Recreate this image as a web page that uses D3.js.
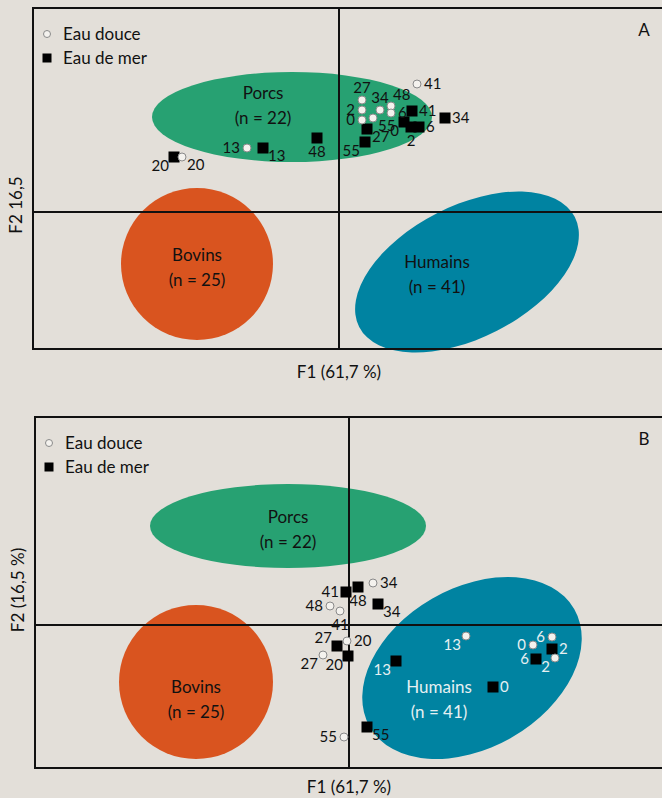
<!DOCTYPE html>
<html>
<head>
<meta charset="utf-8">
<script src="https://cdn.jsdelivr.net/npm/d3@7"></script>
<style>
  html, body { margin: 0; padding: 0; background: #e3dfd9; }
  svg { display: block; font-family: "Lato", "Open Sans", sans-serif; }
</style>
</head>
<body>
<svg id="chart"></svg>
<script>
// F1 / F2 scores (arbitrary units)
const freshA = [
  {id: "41", f1: 1.56, f2: 2.56}, {id: "27", f1: 0.46, f2: 2.24},
  {id: "2", f1: 0.46, f2: 2.04},  {id: "0", f1: 0.46, f2: 1.84},
  {id: "55", f1: 0.68, f2: 1.88}, {id: "34", f1: 0.82, f2: 2.04},
  {id: "48", f1: 1.04, f2: 2.12}, {id: "6", f1: 1.04, f2: 1.98},
  {id: "13", f1: -1.84, f2: 1.28}, {id: "20", f1: -3.14, f2: 1.10}
];
const seaA = [
  {id: "41", f1: 1.46, f2: 2.02}, {id: "27", f1: 0.56, f2: 1.66},
  {id: "55", f1: 0.52, f2: 1.40}, {id: "0", f1: 1.30, f2: 1.80},
  {id: "2", f1: 1.44, f2: 1.70},  {id: "6", f1: 1.60, f2: 1.70},
  {id: "34", f1: 2.12, f2: 1.88}, {id: "48", f1: -0.44, f2: 1.48},
  {id: "13", f1: -1.52, f2: 1.28}, {id: "20", f1: -3.30, f2: 1.10}
];
const freshB = [
  {id: "34", f1: 0.48, f2: 0.84},  {id: "48", f1: -0.38, f2: 0.38},
  {id: "41", f1: -0.18, f2: 0.28}, {id: "20", f1: -0.04, f2: -0.32},
  {id: "27", f1: -0.52, f2: -0.60}, {id: "55", f1: -0.10, f2: -2.24},
  {id: "13", f1: 2.34, f2: -0.22}, {id: "6", f1: 4.06, f2: -0.24},
  {id: "0", f1: 3.68, f2: -0.40},  {id: "2", f1: 4.12, f2: -0.66}
];
const seaB = [
  {id: "41", f1: -0.06, f2: 0.66}, {id: "48", f1: 0.18, f2: 0.76},
  {id: "34", f1: 0.58, f2: 0.42},  {id: "27", f1: -0.24, f2: -0.42},
  {id: "20", f1: -0.02, f2: -0.62}, {id: "13", f1: 0.94, f2: -0.72},
  {id: "55", f1: 0.36, f2: -2.04}, {id: "2", f1: 4.06, f2: -0.48},
  {id: "6", f1: 3.74, f2: -0.68},  {id: "0", f1: 2.88, f2: -1.24}
];

// where each point's number sits (r, l, a, b, ra, la, rb, lb)
const freshPlaceA = {41: "r", 27: "a", 2: "l", 0: "l", 55: "rb", 34: "a", 48: "ra", 6: "r", 13: "l", 20: "rb"};
const seaPlaceA = {41: "r", 27: "rb", 55: "lb", 0: "lb", 2: "b", 6: "r", 34: "r", 48: "b", 13: "rb", 20: "lb"};
const freshPlaceB = {34: "r", 48: "l", 41: "b", 20: "r", 27: "lb", 55: "l", 13: "lb", 6: "l", 0: "l", 2: "lb"};
const seaPlaceB = {41: "l", 48: "b", 34: "rb", 27: "la", 20: "lb", 13: "lb", 55: "rb", 2: "r", 6: "l", 0: "r"};

// animal-group envelopes: centre, semi-axes, tilt (deg)
const groupsA = [
  {name: "Porcs", n: 22, cx: -0.94, cy: 1.90, rx: 2.80, ry: 0.90, tilt: 0, lx: -1.52, ly: 2.12},
  {name: "Bovins", n: 25, cx: -2.84, cy: -1.04, rx: 1.52, ry: 1.52, tilt: 0, lx: -2.84, ly: -1.12},
  {name: "Humains", n: 41, cx: 2.56, cy: -1.20, rx: 2.42, ry: 1.32, tilt: 27, lx: 1.96, ly: -1.26}
];
const groupsB = [
  {name: "Porcs", n: 22, cx: -1.22, cy: 1.98, rx: 2.76, ry: 0.84, tilt: 0, lx: -1.22, ly: 1.90},
  {name: "Bovins", n: 25, cx: -3.06, cy: -1.14, rx: 1.54, ry: 1.54, tilt: 0, lx: -3.06, ly: -1.50},
  {name: "Humains", n: 41, cx: 2.46, cy: -0.86, rx: 2.36, ry: 1.60, tilt: 30, lx: 1.80, ly: -1.50}
];

const legendLabels = ["Eau douce", "Eau de mer"];
const xTitle = "F1 (61,7 %)";

const width = 662, height = 798;
const groupColor = {Porcs: "#27a172", Bovins: "#d9541f", Humains: "#0083a1"};

const svg = d3.select("#chart").attr("width", width).attr("height", height);

const placeOff = {
  r: [7, 5, "start"], l: [-7, 5, "end"], a: [0, -7, "middle"], b: [0, 19, "middle"],
  ra: [2, -6, "start"], la: [-5, -3, "end"], rb: [5, 13, "start"], lb: [-5, 14, "end"]
};

function drawPanel(cfg) {
  const g = svg.append("g");
  const x = d3.scaleLinear().domain(cfg.xDomain).range([cfg.left, cfg.left + 50 * (cfg.xDomain[1] - cfg.xDomain[0])]);
  const y = d3.scaleLinear().domain(cfg.yDomain).range([cfg.top, cfg.bottom]);
  const k = x(1) - x(0);

  // ellipses
  cfg.groups.forEach(d => {
    g.append("ellipse")
      .attr("transform", `translate(${x(d.cx)},${y(d.cy)}) rotate(${-d.tilt})`)
      .attr("rx", d.rx * k).attr("ry", d.ry * k)
      .attr("fill", groupColor[d.name]);
  });

  // frame + axes
  g.append("rect")
    .attr("x", cfg.left).attr("y", cfg.top)
    .attr("width", 720).attr("height", cfg.bottom - cfg.top)
    .attr("fill", "none").attr("stroke", "#111").attr("stroke-width", 2);
  g.append("line").attr("x1", x(0)).attr("x2", x(0)).attr("y1", cfg.top).attr("y2", cfg.bottom)
    .attr("stroke", "#111").attr("stroke-width", 2);
  g.append("line").attr("x1", cfg.left).attr("x2", width + 10).attr("y1", y(0)).attr("y2", y(0))
    .attr("stroke", "#111").attr("stroke-width", 2);

  // group names
  cfg.groups.forEach(d => {
    const t = g.append("text")
      .attr("x", x(d.lx)).attr("y", y(d.ly))
      .attr("text-anchor", "middle")
      .attr("font-size", 17)
      .attr("fill", d.name === "Humains" && cfg.lightHumans ? "#e6f0f2" : "#111");
    t.append("tspan").attr("x", x(d.lx)).attr("dy", -7).text(d.name);
    t.append("tspan").attr("x", x(d.lx)).attr("dy", 25).text(`(n = ${d.n})`);
  });

  const hum = cfg.groups.find(d => d.name === "Humains");
  const inHumans = d => {
    const a = hum.tilt * Math.PI / 180;
    const dx = d.f1 - hum.cx, dy = d.f2 - hum.cy;
    const u = dx * Math.cos(a) + dy * Math.sin(a);
    const v = -dx * Math.sin(a) + dy * Math.cos(a);
    return (u * u) / (hum.rx * hum.rx) + (v * v) / (hum.ry * hum.ry) < 1;
  };

  const labelFill = d => cfg.lightHumans && inHumans(d) ? "#e6f0f2" : "#111";

  // points
  g.selectAll(".sea").data(cfg.sea).join("rect")
    .attr("x", d => x(d.f1) - 5.5).attr("y", d => y(d.f2) - 5.5)
    .attr("width", 11).attr("height", 11).attr("fill", "#000");
  g.selectAll(".fresh").data(cfg.fresh).join("circle")
    .attr("cx", d => x(d.f1)).attr("cy", d => y(d.f2)).attr("r", 4)
    .attr("fill", "#f4f2ee").attr("stroke", "#8a8a8a").attr("stroke-width", 1);

  const labels = cfg.fresh.map(d => ({...d, p: cfg.freshPlace[d.id]}))
    .concat(cfg.sea.map(d => ({...d, p: cfg.seaPlace[d.id]})));
  g.selectAll(".lbl").data(labels).join("text")
    .attr("x", d => x(d.f1) + placeOff[d.p][0])
    .attr("y", d => y(d.f2) + placeOff[d.p][1])
    .attr("text-anchor", d => placeOff[d.p][2])
    .attr("font-size", 15)
    .attr("fill", labelFill)
    .text(d => d.id);

  // legend
  const lg = g.append("g").attr("transform", `translate(${cfg.left + 14},${cfg.top + 26})`);
  lg.append("circle").attr("cx", 0).attr("cy", 0).attr("r", 3.5)
    .attr("fill", "#f4f2ee").attr("stroke", "#8a8a8a");
  lg.append("rect").attr("x", -4.5).attr("y", 19.5).attr("width", 9).attr("height", 9).attr("fill", "#000");
  lg.selectAll("text").data(legendLabels).join("text")
    .attr("x", 16).attr("y", (d, i) => 6 + i * 24)
    .attr("font-size", 17).attr("fill", "#111")
    .text(d => d);

  // panel letter
  g.append("text").attr("x", 644).attr("y", cfg.top + 28)
    .attr("text-anchor", "middle").attr("font-size", 17).attr("fill", "#111")
    .text(cfg.letter);

  // axis titles
  g.append("text").attr("x", x(0)).attr("y", cfg.bottom + cfg.xTitleGap)
    .attr("text-anchor", "middle").attr("font-size", 17).attr("fill", "#111")
    .text(xTitle);
  g.append("text")
    .attr("transform", `translate(${cfg.left - 11},${cfg.yTitleAt}) rotate(-90)`)
    .attr("text-anchor", "middle").attr("font-size", 17).attr("fill", "#111")
    .text(cfg.yTitle);
}

drawPanel({
  letter: "A", left: 33, top: 8, bottom: 349,
  xDomain: [-6.12, 7.0], yDomain: [4.08, -2.74],
  groups: groupsA, fresh: freshA, sea: seaA,
  freshPlace: freshPlaceA, seaPlace: seaPlaceA,
  lightHumans: false, yTitle: "F2 16,5", yTitleAt: 205, xTitleGap: 29
});

drawPanel({
  letter: "B", left: 35, top: 417, bottom: 768,
  xDomain: [-6.28, 7.0], yDomain: [4.16, -2.86],
  groups: groupsB, fresh: freshB, sea: seaB,
  freshPlace: freshPlaceB, seaPlace: seaPlaceB,
  lightHumans: true, yTitle: "F2 (16,5 %)", yTitleAt: 590, xTitleGap: 25
});
</script>
</body>
</html>
